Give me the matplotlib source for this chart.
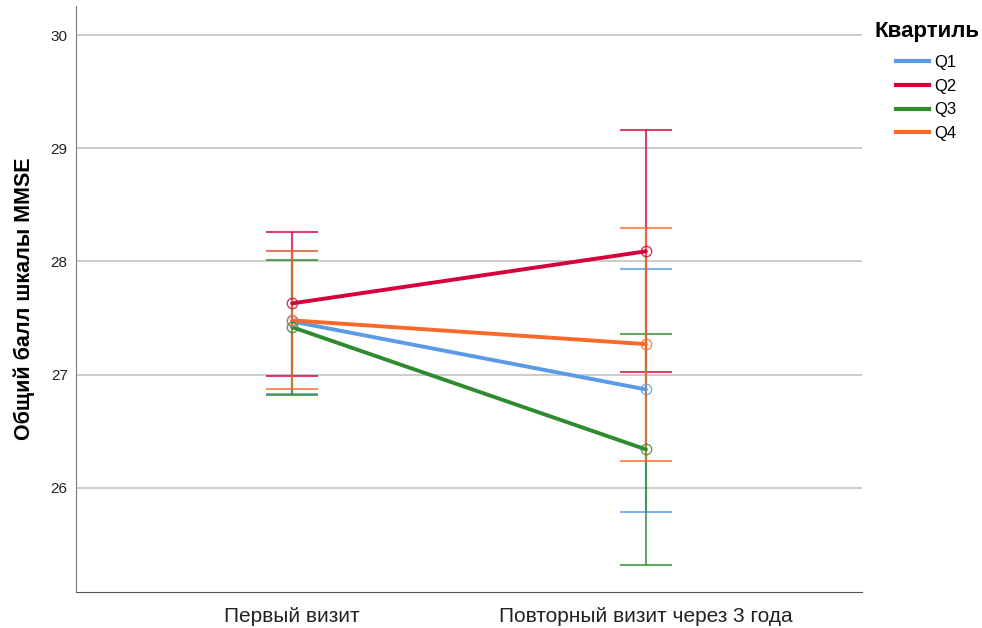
import numpy as np
import matplotlib.pyplot as plt
from matplotlib.lines import Line2D

plt.rcParams['font.family'] = ['Liberation Sans', 'DejaVu Sans']

visits = ['Первый визит', 'Повторный визит через 3 года']
groups = ['Q1', 'Q2', 'Q3', 'Q4']
colors = ['#5a9ae6', '#d5003c', '#2e8b2e', '#f96a2a']

# mean and 95% CI bounds per quartile, per visit
means = {
    'Q1': [27.47, 26.87],
    'Q2': [27.63, 28.09],
    'Q3': [27.42, 26.34],
    'Q4': [27.48, 27.27],
}
lower = {
    'Q1': [26.83, 25.79],
    'Q2': [26.99, 27.02],
    'Q3': [26.82, 25.32],
    'Q4': [26.87, 26.24],
}
upper = {
    'Q1': [28.09, 27.93],
    'Q2': [28.26, 29.16],
    'Q3': [28.01, 27.36],
    'Q4': [28.09, 28.30],
}

fig = plt.figure(figsize=(9.82, 6.28), dpi=100)
ax = fig.add_axes([0.0774, 0.0573, 0.8004, 0.9331])

x = np.arange(len(visits))

for g, c in zip(groups, colors):
    m = np.array(means[g])
    lo = m - np.array(lower[g])
    hi = np.array(upper[g]) - m
    ax.errorbar(x, m, yerr=[lo, hi], fmt='none', ecolor=c, elinewidth=1.5,
                capsize=19, capthick=1.5, alpha=0.75, zorder=2)

for g, c in zip(groups, colors):
    ax.plot(x, means[g], color=c, lw=2.8, zorder=3, solid_capstyle='round')
    ax.plot(x, means[g], 'o', ms=7.5, mfc='none', mec=c, mew=1.0, alpha=0.8, zorder=4)

ax.set_xlim(-0.611, 1.611)
ax.set_ylim(25.08, 30.257)
ax.set_yticks([26, 27, 28, 29, 30])
ax.set_xticks(x)
ax.set_xticklabels(visits, fontsize=15, color='#222222')
ax.tick_params(axis='both', length=0)
ax.tick_params(axis='y', labelsize=11, colors='#222222', pad=6)
ax.tick_params(axis='x', pad=11)
ax.yaxis.grid(True, color='#c8c8c8', lw=1.3)
ax.set_axisbelow(True)
for s in ['top', 'right']:
    ax.spines[s].set_visible(False)
ax.spines['left'].set_color('#7a7a7a')
ax.spines['bottom'].set_color('#555555')
ax.set_ylabel('Общий балл шкалы MMSE', fontsize=15.5, fontweight='bold', labelpad=11)

fig.text(875 / 982, 1 - 31 / 628, 'Квартиль', fontsize=16, fontweight='bold',
         ha='left', va='center')
handles = [Line2D([0], [0], color=c, lw=3) for c in colors]
leg = fig.legend(handles, groups, loc='upper left',
                 bbox_to_anchor=(896 / 982, 1 - 55 / 628), frameon=False, fontsize=12,
                 borderpad=0, borderaxespad=0,
                 handlelength=1.95, handletextpad=0.35, labelspacing=0.52)

fig.savefig('out.png', dpi=100)
